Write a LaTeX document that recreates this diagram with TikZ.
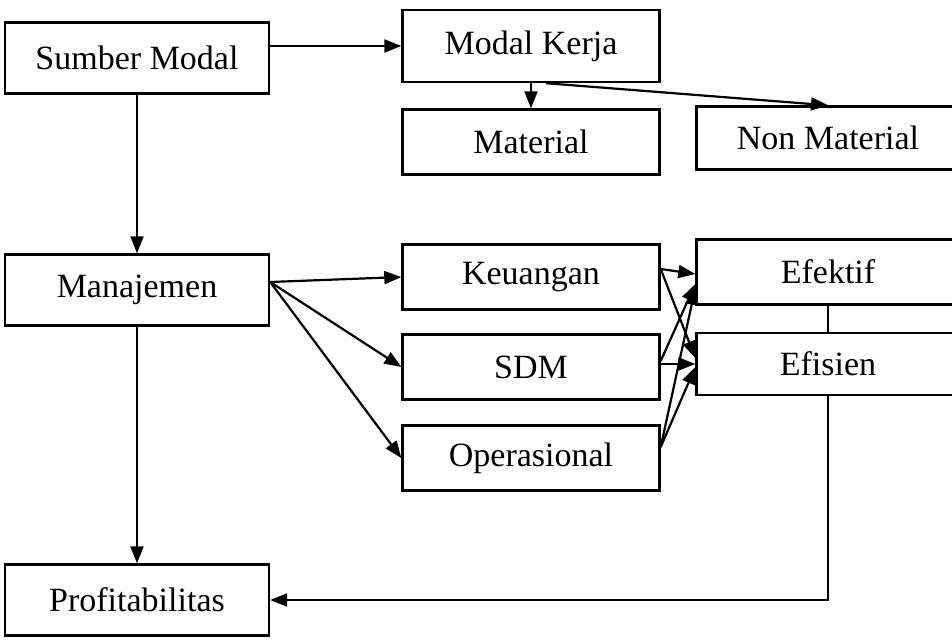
\documentclass[tikz,border=0pt]{standalone}
\usepackage{fontspec}
\setmainfont{Liberation Serif}
\usetikzlibrary{arrows.meta}

\begin{document}
\begin{tikzpicture}[x=1pt,y=-1pt]
  \tikzset{box/.style={draw,line width=2.4pt,minimum width=257pt,minimum height=65pt,inner sep=0pt,font=\fontsize{34}{40}\selectfont}}
  \tikzset{wide/.style={box,minimum width=264pt,minimum height=71pt}}
  \tikzset{open/.style={box,minimum width=263pt}}
  \tikzset{link/.style={-{Triangle[length=17pt,width=13pt]},line width=2.2pt}}
  \useasboundingbox (0,0) rectangle (952,641);
  \node[wide] (sumber) at (137,58) {Sumber Modal};
  \node[box,minimum height=72pt] (kerja) at (531,46) {Modal Kerja};
  \node[box] (material) at (531,142) {Material};
  \node[open,minimum height=63pt] (nonmat) at (828,138) {Non Material};
  \node[wide] (manaj) at (137,290) {Manajemen};
  \node[box] (keu) at (531,277) {Keuangan};
  \node[box] (sdm) at (531,367) {SDM};
  \node[box] (ops) at (531,458) {Operasional};
  \node[open] (efektif) at (828,272) {Efektif};
  \node[open,minimum height=62pt] (efisien) at (828,364) {Efisien};
  \node[wide] (profit) at (137,600) {Profitabilitas};
  % modal
  \draw[link] (sumber.east |- kerja.west) -- (kerja.west);
  \draw[link] (kerja.south) -- (material.north);
  \draw[link] ([xshift=15pt]kerja.south) -- (nonmat.north);
  \draw[link] (sumber.south) -- (manaj.north);
  % manajemen
  \draw[link] ([yshift=8pt]manaj.east) -- (keu.west);
  \draw[link] ([yshift=8pt]manaj.east) -- (sdm.west);
  \draw[link] ([yshift=8pt]manaj.east) -- (ops.west);
  \draw[link] ([yshift=8pt]keu.east) -- ([yshift=-2pt]efektif.west);
  \draw[link] ([yshift=8pt]keu.east) -- ([yshift=6pt]efisien.west);
  \draw[link] ([yshift=3pt]sdm.east) -- (efisien.west);
  \draw[link] ([yshift=6pt]sdm.east) -- ([yshift=-12pt]efektif.west);
  \draw[link] ([yshift=11pt]ops.east) -- ([yshift=-16pt]efektif.west);
  \draw[link] ([yshift=11pt]ops.east) -- ([yshift=-3pt]efisien.west);
  \draw[line width=2.2pt] (efektif.south) -- (efisien.north);
  % hasil
  \draw[link] (efisien.south) |- (profit.east);
  \draw[link] (manaj.south) -- (profit.north);
\end{tikzpicture}
\end{document}
